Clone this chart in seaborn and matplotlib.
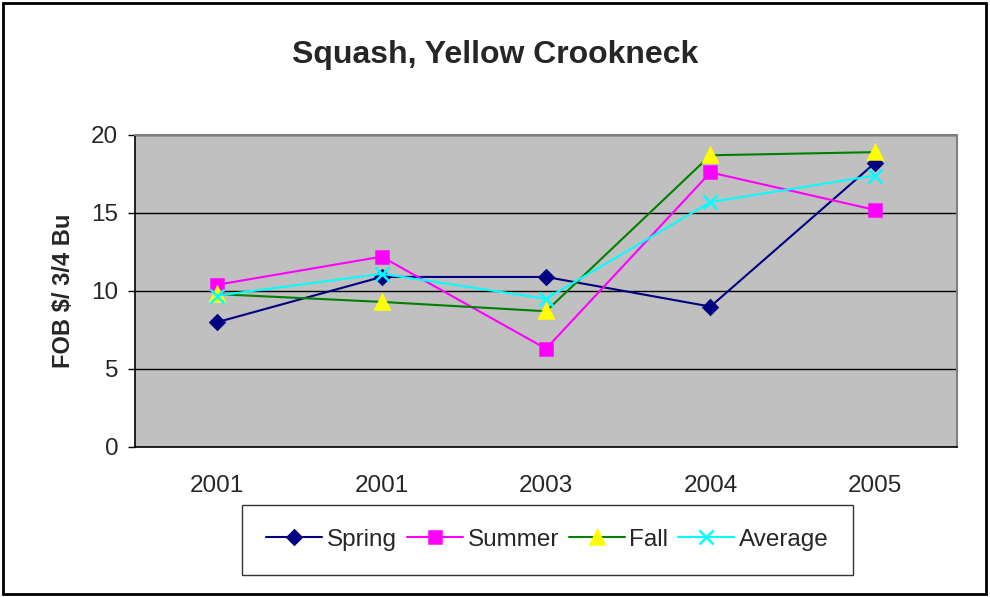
import seaborn as sns
import pandas as pd
import matplotlib.pyplot as plt
from matplotlib.patches import Rectangle

# data
years = ["2001", "2001", "2003", "2004", "2005"]
spring = [8.0, 10.9, 10.9, 9.0, 18.2]
summer = [10.4, 12.2, 6.3, 17.6, 15.2]
fall = [9.8, 9.3, 8.7, 18.7, 18.9]
average = [9.7, 11.1, 9.5, 15.7, 17.4]

sns.set_style("white")
plt.rcParams['font.family'] = ['Liberation Sans', 'DejaVu Sans']

fig = plt.figure(figsize=(9.9, 5.97), dpi=100)
ax = fig.add_axes([0.1364, 0.2513, 0.8303, 0.5226])
ax.set_facecolor("#C0C0C0")

pos = list(range(len(years)))

# series styles: (label, values, line colour, marker, marker face, marker size)
series = [
    ("Spring", spring, "#000080", "D", "#000080", 7),
    ("Summer", summer, "#FF00FF", "s", "#FF00FF", 8),
    ("Fall", fall, "#008000", "^", "#FFFF00", 10),
    ("Average", average, "#00FFFF", "x", "#00FFFF", 10),
]

for label, vals, col, mk, face, ms in series:
    df = pd.DataFrame({"x": pos, "y": vals})
    sns.lineplot(data=df, x="x", y="y", ax=ax, color=col, linewidth=1.5,
                 marker=mk, markersize=ms, markerfacecolor=face,
                 markeredgecolor=face, markeredgewidth=1.8, label=label)

ax.set_xlim(-0.5, len(years) - 0.5)
ax.set_ylim(0, 20)
ax.set_yticks([0, 5, 10, 15, 20])
ax.grid(axis="y", color="black", linewidth=1)
ax.set_axisbelow(True)

# category labels centered, tick marks between categories
ax.set_xticks(pos)
ax.set_xticklabels(years, fontsize=17.5)
ax.set_xticks([p - 0.5 for p in pos] + [len(years) - 0.5], minor=True)
ax.tick_params(axis="x", which="major", length=0, pad=20)
ax.tick_params(axis="x", which="minor", length=6, width=1, color="black", direction="out")
ax.tick_params(axis="y", labelsize=17.5, length=5, width=1, color="black",
               direction="out", left=True, pad=7)

for s in ["top", "right"]:
    ax.spines[s].set_color("#808080")
    ax.spines[s].set_linewidth(1.5)
for s in ["left", "bottom"]:
    ax.spines[s].set_color("black")
    ax.spines[s].set_linewidth(1.2)

ax.set_xlabel("")
ax.set_ylabel("FOB $/ 3/4 Bu", fontsize=17, fontweight="bold", labelpad=12)
fig.text(0.5, 0.908, "Squash, Yellow Crookneck", ha="center", va="center",
         fontsize=23, fontweight="bold")

ax.legend_.remove()
handles, labels = ax.get_legend_handles_labels()
leg = fig.legend(handles, labels, loc="center", bbox_to_anchor=(0.553, 0.0955),
                 ncol=4, fontsize=17.5, frameon=True, fancybox=False,
                 edgecolor="black", handlelength=2.3, handletextpad=0.2,
                 columnspacing=0.4, borderpad=1.0, borderaxespad=0)
leg.get_frame().set_linewidth(1)

# outer chart border
fig.patches.append(Rectangle((0.003, 0.005), 0.993, 0.99, transform=fig.transFigure,
                             fill=False, edgecolor="black", linewidth=2))

plt.savefig("out.png", dpi=100)
